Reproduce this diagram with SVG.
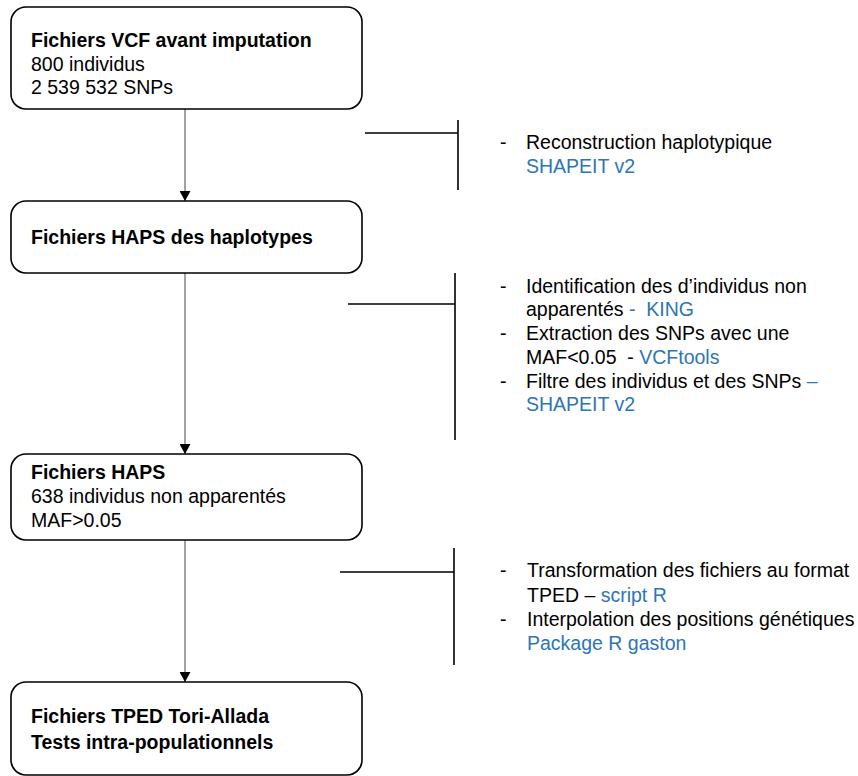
<svg xmlns="http://www.w3.org/2000/svg" width="858" height="776" viewBox="0 0 858 776">
<style>
.box{fill:#fff;stroke:#000;stroke-width:1.6}
.t{font-family:"Liberation Sans",Arial,sans-serif;font-size:19.5px;fill:#000}
.b{font-weight:bold}
.blue{fill:#2E75B6}
.arr{stroke:#444;stroke-width:1;fill:none}
.br{stroke:#000;stroke-width:1.6;fill:none}
</style>
<defs>
<marker id="ah" markerWidth="10" markerHeight="11" refX="10" refY="5.5" orient="auto" markerUnits="userSpaceOnUse">
<path d="M0,0 L10,5.5 L0,11 Z" fill="#000"/>
</marker>
</defs>
<rect width="858" height="776" fill="#fff"/>
<g id="connectors">
<line class="arr" x1="185" y1="109" x2="185" y2="201" marker-end="url(#ah)"/>
<line class="arr" x1="185" y1="273" x2="185" y2="454" marker-end="url(#ah)"/>
<line class="arr" x1="185" y1="540" x2="185" y2="682" marker-end="url(#ah)"/>
<path class="br" d="M365,133 H458 M458,120 V190"/>
<path class="br" d="M348,304 H455 M455,273 V440"/>
<path class="br" d="M340,572 H454 M454,548 V665"/>
</g>
<g id="n1">
<rect class="box" x="11" y="7" width="351" height="102" rx="15"/>
<text class="t b" x="31" y="47">Fichiers VCF avant imputation</text>
<text class="t" x="31" y="71">800 individus</text>
<text class="t" x="31" y="94">2 539 532 SNPs</text>
</g>
<g id="n2">
<rect class="box" x="11" y="201" width="351" height="72" rx="15"/>
<text class="t b" x="31" y="244">Fichiers HAPS des haplotypes</text>
</g>
<g id="n3">
<rect class="box" x="11" y="454" width="351" height="86" rx="15"/>
<text class="t b" x="31" y="479">Fichiers HAPS</text>
<text class="t" x="31" y="503">638 individus non apparentés</text>
<text class="t" x="31" y="527">MAF&gt;0.05</text>
</g>
<g id="n4">
<rect class="box" x="11" y="682" width="351" height="93" rx="15"/>
<text class="t b" x="31" y="723">Fichiers TPED Tori-Allada</text>
<text class="t b" x="31" y="749">Tests intra-populationnels</text>
</g>
<g id="note1">
<text class="t" x="500" y="149">-</text>
<text class="t" x="526" y="149">Reconstruction haplotypique</text>
<text class="t blue" x="526" y="173">SHAPEIT v2</text>
</g>
<g id="note2">
<text class="t" x="500" y="293">-</text>
<text class="t" x="526" y="293">Identification des d’individus non</text>
<text class="t" x="526" y="316" xml:space="preserve">apparentés <tspan class="blue">-  KING</tspan></text>
<text class="t" x="500" y="340">-</text>
<text class="t" x="526" y="340">Extraction des SNPs avec une</text>
<text class="t" x="526" y="364" xml:space="preserve">MAF&lt;0.05  - <tspan class="blue">VCFtools</tspan></text>
<text class="t" x="500" y="388">-</text>
<text class="t" x="526" y="388">Filtre des individus et des SNPs <tspan class="blue">–</tspan></text>
<text class="t blue" x="526" y="411">SHAPEIT v2</text>
</g>
<g id="note3">
<text class="t" x="500" y="577">-</text>
<text class="t" x="527" y="577">Transformation des fichiers au format</text>
<text class="t" x="527" y="602">TPED – <tspan class="blue">script R</tspan></text>
<text class="t" x="500" y="626">-</text>
<text class="t" x="527" y="626">Interpolation des positions génétiques</text>
<text class="t blue" x="527" y="650">Package R gaston</text>
</g>
</svg>
